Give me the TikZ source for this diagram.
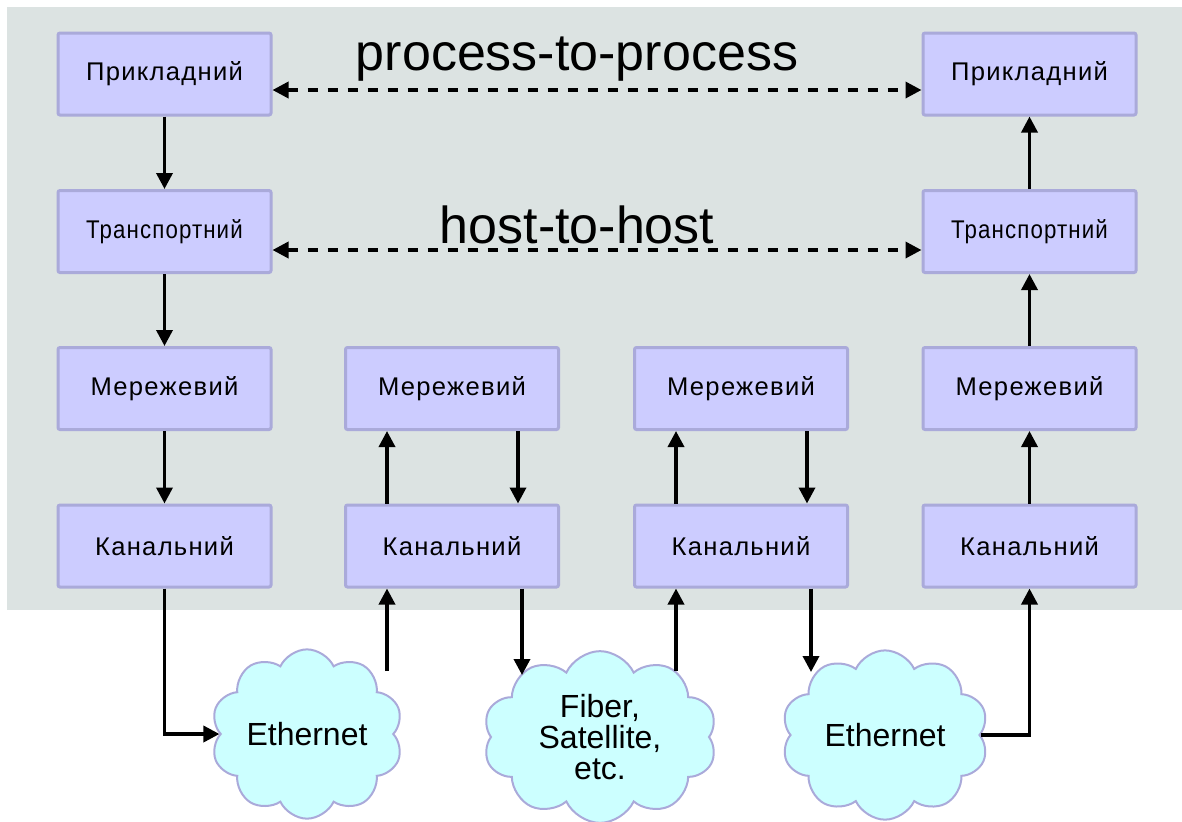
\documentclass[tikz,border=0pt]{standalone}
\usepackage{fontspec}
\setmainfont{Liberation Sans}
\usetikzlibrary{arrows.meta,shapes.symbols,calc}

\definecolor{panel}{RGB}{220,227,226}
\definecolor{layerfill}{RGB}{204,204,255}
\definecolor{layerline}{RGB}{170,170,218}
\definecolor{netfill}{RGB}{204,255,255}
\definecolor{netline}{RGB}{170,170,218}

\begin{document}
\begin{tikzpicture}[x=0.5pt,y=-0.5pt,
  layer/.style={draw=layerline, line width=1.5pt, fill=layerfill, rounded corners=1pt,
    minimum width=106.5pt, minimum height=41pt, inner sep=0pt,
    font=\fontsize{12.8}{14}\selectfont\addfontfeature{LetterSpace=5}},
  net/.style={cloud, cloud puffs=10, cloud puff arc=130, aspect=1.2,
    draw=netline, line width=1pt, fill=netfill, inner sep=0pt,
    font=\fontsize{16}{15.5}\selectfont, align=center},
  arr/.style={-{Triangle[length=8pt,width=8pt]}, line width=1.75pt},
  peer/.style={{Triangle[length=8pt,width=8pt]}-{Triangle[length=8pt,width=8pt]},
    line width=1.75pt, dash pattern=on 5pt off 5pt},
  banner/.style={font=\fontsize{26}{28}\selectfont, inner sep=0pt, anchor=base}
]
\useasboundingbox (0,0) rectangle (1182,821);
\fill[panel] (7,7) rectangle (1182,610);

% end host (left)
\node[layer] (P1) at (164.5,74)    {Прикладний};
\node[layer] (T1) at (164.5,231.5) {\scalebox{0.87}[1]{Транспортний}};
\node[layer] (M1) at (164.5,388.5) {Мережевий};
\node[layer] (K1) at (164.5,546)   {Канальний};

% routers
\node[layer] (M2) at (452,388.5) {Мережевий};
\node[layer] (K2) at (452,546)   {Канальний};
\node[layer] (M3) at (741,388.5) {Мережевий};
\node[layer] (K3) at (741,546)   {Канальний};

% end host (right)
\node[layer] (P4) at (1029.5,74)    {Прикладний};
\node[layer] (T4) at (1029.5,231.5) {\scalebox{0.87}[1]{Транспортний}};
\node[layer] (M4) at (1029.5,388.5) {Мережевий};
\node[layer] (K4) at (1029.5,546)   {Канальний};

% physical networks
\node[net, minimum width=96pt,  minimum height=82.5pt] (C1) at (307,734) {Ethernet};
\node[net, minimum width=117pt, minimum height=80pt]   (C2) at (600,737) {Fiber,\\Satellite,\\etc.};
\node[net, minimum width=103.5pt, minimum height=83pt] (C3) at (885,735) {Ethernet};

% peer-to-peer labels
\node[banner] (ptp) at (577,70)  {process-to-process};
\node[banner] (hth) at (577,243) {host-to-host};

% logical peer connections
\draw[peer] ([yshift=-8pt]P1.east) -- ([yshift=-8pt]P4.west);
\draw[peer] ([yshift=-9.25pt]T1.east) -- ([yshift=-9.25pt]T4.west);

% down the sending stack
\draw[arr] (P1) -- (T1);
\draw[arr] (T1) -- (M1);
\draw[arr] (M1) -- (K1);

% up the receiving stack
\draw[arr] (K4) -- (M4);
\draw[arr] (M4) -- (T4);
\draw[arr] (T4) -- (P4);

% inside the routers
\draw[arr] ([xshift=-32.5pt]K2.north) -- ([xshift=-32.5pt]M2.south);
\draw[arr] ([xshift=33pt]M2.south) -- ([xshift=33pt]K2.north);
\draw[arr] ([xshift=-32.5pt]K3.north) -- ([xshift=-32.5pt]M3.south);
\draw[arr] ([xshift=33pt]M3.south) -- ([xshift=33pt]K3.north);

% links to and from the networks
\coordinate (c1top) at (387,671);
\coordinate (c2in)  at (522,675);
\coordinate (c2top) at (676,671);
\coordinate (c3in)  at (811,672);

\draw[arr] (K1.south) |- (C1.west);
\draw[arr] (c1top) -- (c1top |- K2.south);
\draw[arr] (c2in |- K2.south) -- (c2in);
\draw[arr] (c2top) -- (c2top |- K3.south);
\draw[arr] (c3in |- K3.south) -- (c3in);
\draw[arr] (C3.east) -| (K4.south);
\end{tikzpicture}
\end{document}
